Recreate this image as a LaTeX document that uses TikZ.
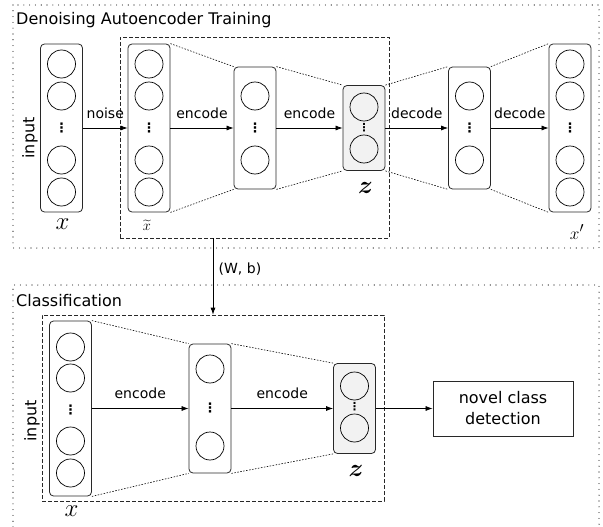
\documentclass[tikz,border=0pt]{standalone}
\usepackage{fontspec}
\setmainfont{DejaVu Sans}
\usepackage{amsmath}
\usetikzlibrary{arrows.meta,positioning}
\definecolor{zgray}{RGB}{242,242,242}
\definecolor{edgegray}{RGB}{40,40,40}

\tikzset{
  layer/.style={draw=edgegray, rounded corners=4pt, line width=0.8pt, inner sep=0pt, minimum width=42pt},
  neuron/.style={draw, circle, line width=0.7pt, minimum size=28pt, inner sep=0pt},
  skipdots/.style={inner sep=0pt, font=\fontsize{13}{13}\bfseries},
  panel/.style={line width=1.1pt, line cap=round, dash pattern=on 0pt off 5.8pt},
  group/.style={draw=edgegray, line width=0.7pt, dash pattern=on 4pt off 2pt, inner sep=0pt},
  taper/.style={line width=0.6pt, dash pattern=on 1.5pt off 1.5pt},
  flow/.style={-{Latex[length=7pt,width=5pt]}, line width=0.7pt},
  lbl/.style={font=\fontsize{14}{16}\selectfont},
  mathlbl/.style={inner sep=0pt},
  title/.style={font=\fontsize{16}{20}\selectfont, anchor=west, inner sep=0pt},
}

\begin{document}
\begin{tikzpicture}[x=1pt,y=-1pt]
    \useasboundingbox (0,0) rectangle (603,527);

    % Training panel
    \draw[panel] (13,5) rectangle (599,248);
    \node[title] (ttrain) at (16,20) {Denoising Autoencoder Training};
    \node[group, minimum width=269pt, minimum height=201pt] (encA) at (254.5,137.5) {};

    % layers of the autoencoder
    \node[layer, minimum height=168pt] (inA) at (61.5,128) {};
    \node[layer, minimum height=168pt] (noisy) at (149,128) {};
    \node[layer, minimum height=122pt] (hidA) at (255,128) {};
    \node[layer, fill=zgray, minimum height=85pt] (codeA) at (364,128) {};
    \node[layer, minimum height=122pt] (dec) at (469.5,128) {};
    \node[layer, minimum height=168pt] (outA) at (570,128) {};

    % neurons
    \foreach \lay/\cx in {inA/61.5, noisy/149, outA/570} {
        \foreach \cy [count=\i] in {64,96,160,192}
            \node[neuron] (\lay-\i) at (\cx,\cy) {};
        \node[skipdots] (\lay-dots) at (\cx,128) {⋮};
    }
    \foreach \lay/\cx in {hidA/255, dec/469.5} {
        \foreach \cy [count=\i] in {96,160}
            \node[neuron] (\lay-\i) at (\cx,\cy) {};
        \node[skipdots] (\lay-dots) at (\cx,128) {⋮};
    }
    \node[neuron] (codeA-1) at (364,107) {};
    \node[neuron] (codeA-2) at (364,149) {};
    \node[skipdots, font=\fontsize{11}{11}\bfseries] (codeA-dots) at (364,128) {⋮};

    % flow between layers
    \draw[flow] (inA) -- node[lbl, above=6pt] {noise} (noisy);
    \draw[flow] (noisy) -- node[lbl, above=6pt] {encode} (hidA);
    \draw[flow] (hidA) -- node[lbl, above=6pt] {encode} (codeA);
    \draw[flow] (codeA) -- node[lbl, above=6pt] {decode} (dec);
    \draw[flow] (dec) -- node[lbl, above=6pt] {decode} (outA);

    % tapering outlines
    \draw[taper] (noisy.north east) -- (hidA.north west);
    \draw[taper] (noisy.south east) -- (hidA.south west);
    \draw[taper] (hidA.north east) -- (codeA.north west);
    \draw[taper] (hidA.south east) -- (codeA.south west);
    \draw[taper] (codeA.north east) -- (dec.north west);
    \draw[taper] (codeA.south east) -- (dec.south west);
    \draw[taper] (dec.north east) -- (outA.north west);
    \draw[taper] (dec.south east) -- (outA.south west);

    \node[rotate=90, inner sep=0pt, font=\fontsize{16}{16}\selectfont] (inlblA) at (30,138) {input};
    \node[mathlbl, font=\fontsize{25}{25}\selectfont] (xA) at (62.5,224) {$x$};
    \node[mathlbl, font=\fontsize{15}{15}\selectfont] (xtilde) at (147,225) {$\widetilde{x}$};
    \node[mathlbl, font=\fontsize{23}{23}\selectfont] (zA) at (365.5,188) {$\boldsymbol{z}$};
    \node[mathlbl, font=\fontsize{19}{19}\selectfont] (xprime) at (577,232) {$x'$};

    % Classification panel
    \draw[panel] (13,527) -- (13,285) -- (599,285) -- (599,527);
    \node[title] (tclass) at (16,301) {Classification};
    \node[group, minimum width=342pt, minimum height=186pt] (encB) at (213,408) {};

    \draw[flow] (encA.south -| encB.north) -- node[lbl, right=2pt, pos=0.4] {(W, b)} (encB.north);

    \node[layer, minimum height=175pt] (inB) at (70.5,408.5) {};
    \node[layer, minimum height=129pt] (hidB) at (210,408.5) {};
    \node[layer, fill=zgray, minimum height=90pt] (codeB) at (354.5,408.5) {};
    \node[draw=edgegray, line width=0.8pt, minimum width=140pt, minimum height=55pt,
          align=center, font=\fontsize{16}{21}\selectfont] (novel) at (503,408.5) {novel class\\detection};

    \foreach \cy [count=\i] in {347,378,441,473}
        \node[neuron] (inB-\i) at (70.5,\cy) {};
    \node[skipdots] (inB-dots) at (70.5,410) {⋮};
    \node[neuron] (hidB-1) at (210,369) {};
    \node[neuron] (hidB-2) at (210,446) {};
    \node[skipdots] (hidB-dots) at (210,408) {⋮};
    \node[neuron] (codeB-1) at (354.5,386) {};
    \node[neuron] (codeB-2) at (354.5,428) {};
    \node[skipdots, font=\fontsize{11}{11}\bfseries] (codeB-dots) at (354.5,407) {⋮};

    \draw[flow] (inB) -- node[lbl, above=6pt] {encode} (hidB);
    \draw[flow] (hidB) -- node[lbl, above=6pt] {encode} (codeB);
    \draw[flow] (codeB) -- (novel);

    \draw[taper] (inB.north east) -- (hidB.north west);
    \draw[taper] (inB.south east) -- (hidB.south west);
    \draw[taper] (hidB.north east) -- (codeB.north west);
    \draw[taper] (hidB.south east) -- (codeB.south west);

    \node[rotate=90, inner sep=0pt, font=\fontsize{16}{16}\selectfont] (inlblB) at (32,421) {input};
    \node[mathlbl, font=\fontsize{25}{25}\selectfont] (xB) at (71.5,511) {$x$};
    \node[mathlbl, font=\fontsize{23}{23}\selectfont] (zB) at (356,471) {$\boldsymbol{z}$};
\end{tikzpicture}
\end{document}
